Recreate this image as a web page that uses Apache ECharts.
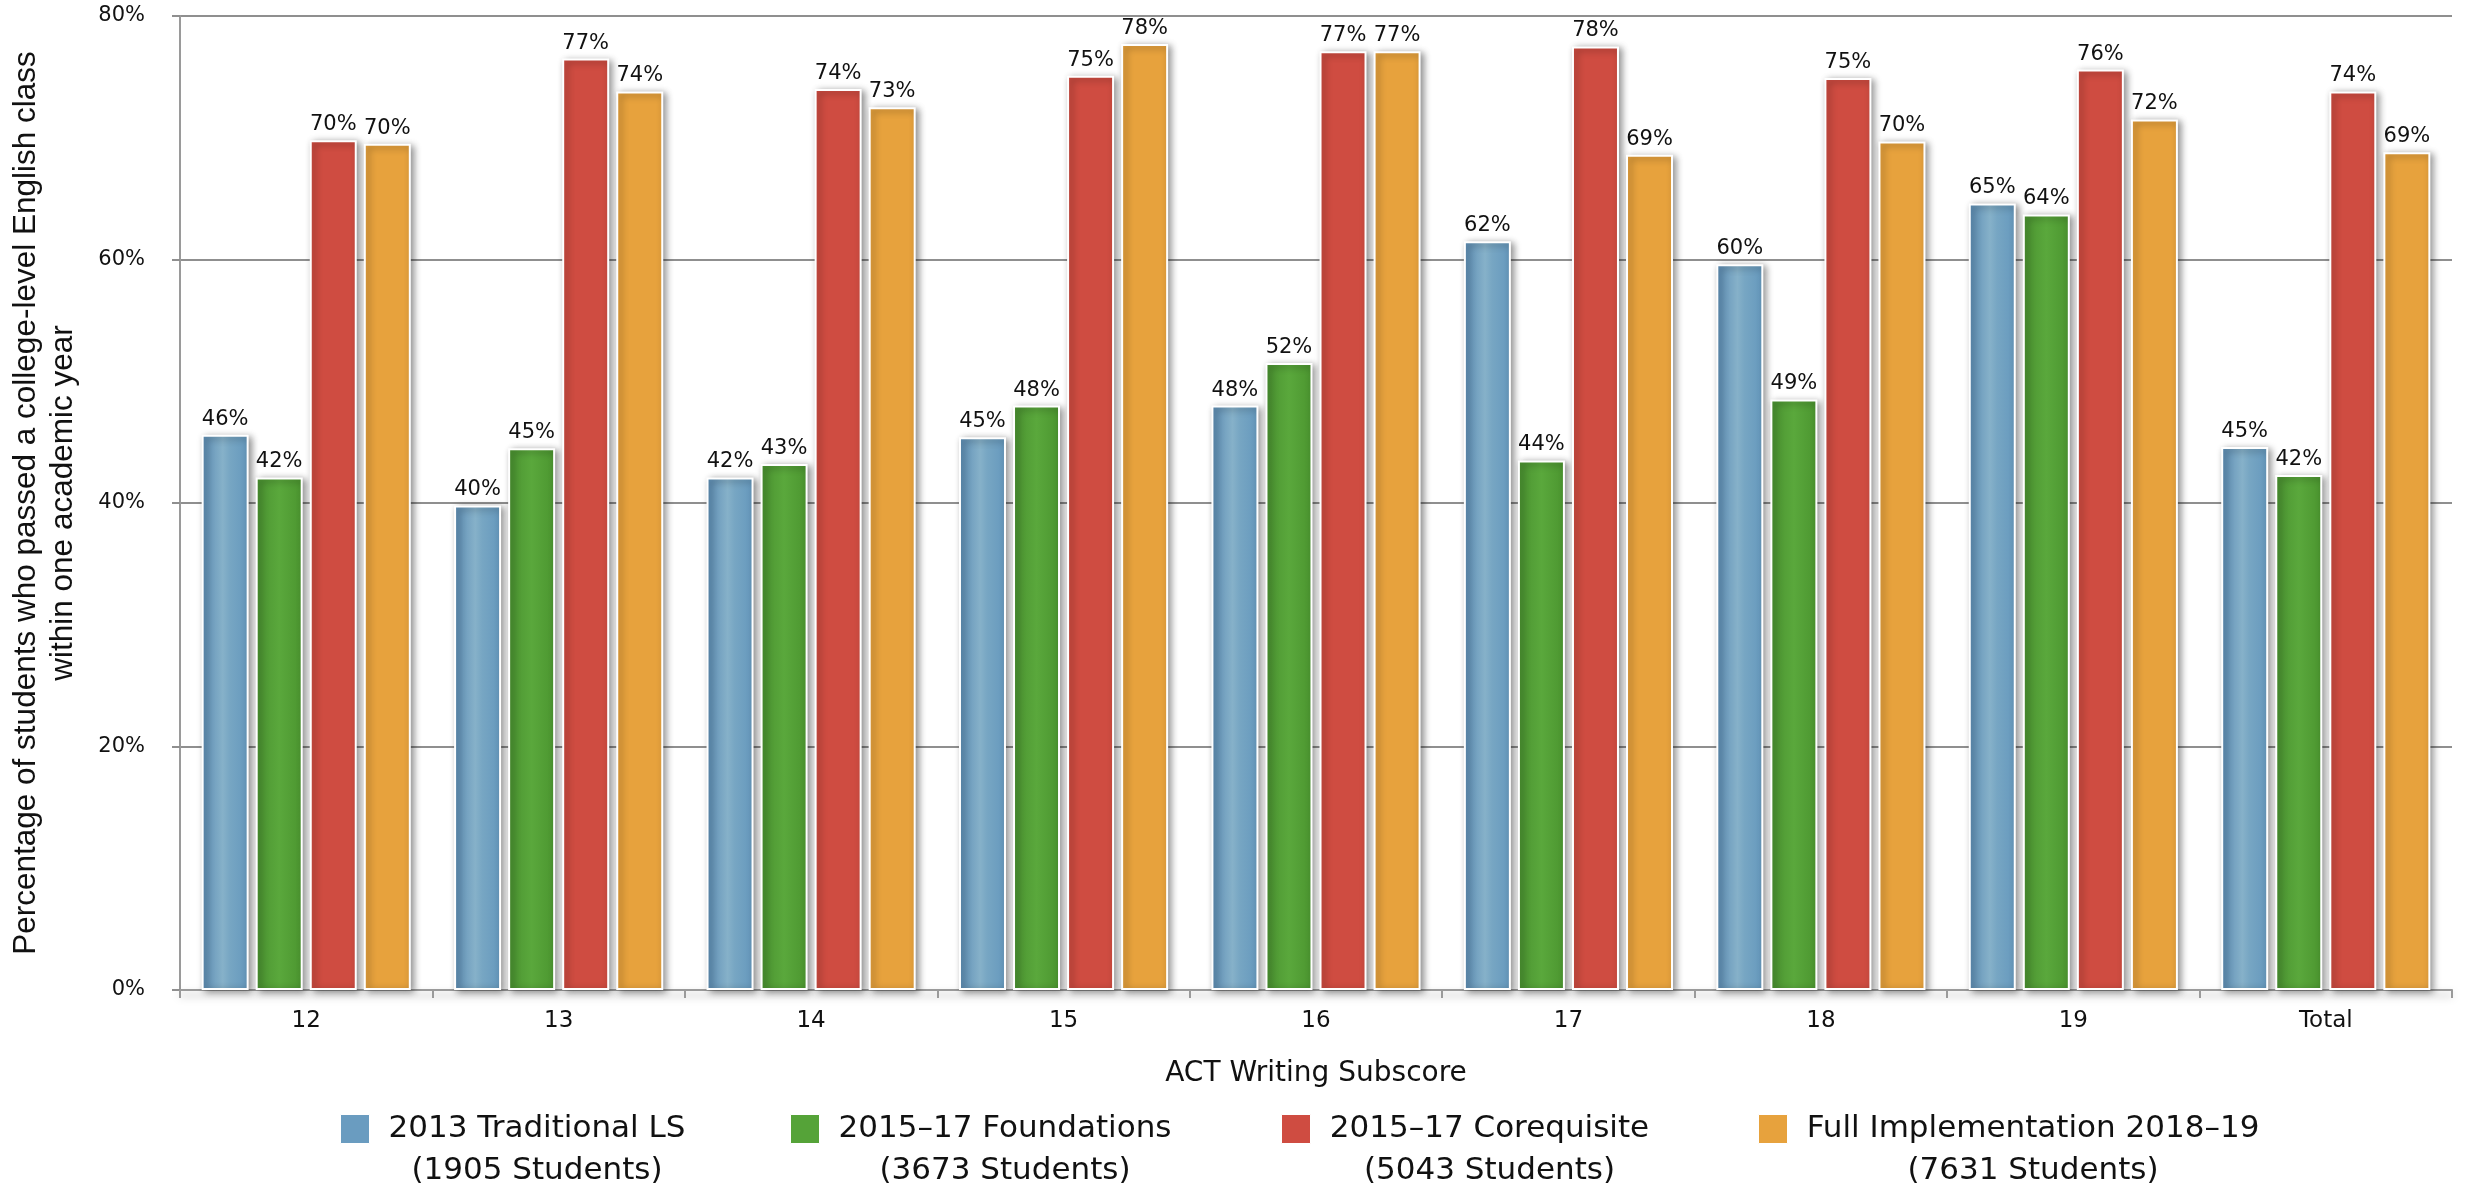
<!DOCTYPE html>
<html>
<head>
<meta charset="utf-8">
<script src="https://cdn.jsdelivr.net/npm/echarts@6/dist/echarts.min.js"></script>
<style>
html,body{margin:0;padding:0;background:#fff;}
#chart{width:2465px;height:1192px;}
</style>
</head>
<body>
<div id="chart"></div>
<script>
// ---- data ----
var categories = ['12', '13', '14', '15', '16', '17', '18', '19', 'Total'];
var seriesNames = ['2013 Traditional LS', '2015\u201317 Foundations', '2015\u201317 Corequisite', 'Full Implementation 2018\u201319'];
var studentCounts = [1905, 3673, 5043, 7631];
var traditional = [45.6, 39.8, 42.1, 45.4, 48.0, 61.5, 59.6, 64.6, 44.6];
var foundations = [42.1, 44.5, 43.2, 48.0, 51.5, 43.5, 48.5, 63.7, 42.3];
var corequisite = [69.8, 76.5, 74.0, 75.1, 77.1, 77.5, 74.9, 75.6, 73.8];
var fullImpl = [69.5, 73.8, 72.5, 77.7, 77.1, 68.6, 69.7, 71.5, 68.8];
var yTicks = [0, 20, 40, 60, 80];
var xAxisTitle = 'ACT Writing Subscore';
var yAxisTitle = 'Percentage of students who passed a college-level English class\nwithin one academic year';

// ---- styles ----
var seriesValues = [traditional, foundations, corequisite, fullImpl];
var colors = [
  new echarts.graphic.LinearGradient(0, 0, 1, 0, [
    {offset: 0, color: '#5b8cb4'}, {offset: 0.45, color: '#86b1c9'}, {offset: 0.6, color: '#77a6c3'}, {offset: 1, color: '#6598bd'}]),
  new echarts.graphic.LinearGradient(0, 0, 1, 0, [
    {offset: 0, color: '#4a9230'}, {offset: 0.5, color: '#5aa83c'}, {offset: 1, color: '#4b952f'}]),
  '#cf4c41',
  '#e7a23d'
];
var legendColors = ['#6a9cc0', '#55a338', '#cf4c41', '#e7a23d'];
var legendLeft = [340, 790, 1281, 1758];
var FONT = 'DejaVu Sans';
var LEGEND_FS = 31;

var measureCtx = document.createElement('canvas').getContext('2d');
measureCtx.font = LEGEND_FS + 'px "' + FONT + '"';
function textW(s) { return Math.ceil(measureCtx.measureText(s).width); }

var series = seriesNames.map(function (n, i) {
  return {
    name: n,
    type: 'bar',
    data: seriesValues[i],
    barWidth: 47,
    barGap: '15%',
    barCategoryGap: '17%',
    itemStyle: {
      color: colors[i],
      borderColor: '#ffffff',
      borderWidth: 2,
      shadowColor: 'rgba(0,0,0,0.45)',
      shadowBlur: 7,
      shadowOffsetX: 3,
      shadowOffsetY: 2
    },
    label: {
      show: true,
      position: 'top',
      distance: 5,
      fontFamily: FONT,
      fontSize: 21,
      color: '#111',
      formatter: function (p) { return Math.round(p.value) + '%'; }
    },
    emphasis: {disabled: true}
  };
});

var legends = seriesNames.map(function (n, i) {
  var line2 = '(' + studentCounts[i] + ' Students)';
  var W = Math.max(textW(n), textW(line2));
  return {
    data: [{name: n, itemStyle: {color: legendColors[i], borderColor: '#fff', borderWidth: 1}}],
    left: legendLeft[i],
    top: 1082,
    padding: 0,
    icon: 'rect',
    itemWidth: 29,
    itemHeight: 29,
    selectedMode: false,
    formatter: function (name) {
      return '{e| }\n{a|' + name + '}\n{b|' + line2 + '}';
    },
    textStyle: {
      fontFamily: FONT,
      fontSize: LEGEND_FS,
      color: '#111',
      rich: {
        e: {fontSize: 10, lineHeight: 42, width: W, padding: [0, 0, 0, 14]},
        a: {fontFamily: FONT, fontSize: LEGEND_FS, lineHeight: 42, width: W, align: 'center', padding: [0, 0, 0, 14], color: '#111'},
        b: {fontFamily: FONT, fontSize: LEGEND_FS, lineHeight: 42, width: W, align: 'center', padding: [0, 0, 0, 14], color: '#111'}
      }
    }
  };
});

var chart = echarts.init(document.getElementById('chart'), null, {renderer: 'canvas'});
chart.setOption({
  backgroundColor: '#ffffff',
  animation: false,
  color: legendColors,
  grid: {left: 180, right: 13, top: 16, bottom: 202, containLabel: false},
  legend: legends,
  xAxis: {
    type: 'category',
    data: categories,
    name: xAxisTitle,
    nameLocation: 'middle',
    nameGap: 70,
    nameTextStyle: {fontFamily: FONT, fontSize: 28, color: '#111'},
    axisLine: {lineStyle: {color: '#9a9a9a', width: 2, shadowColor: 'rgba(0,0,0,0.35)', shadowBlur: 8, shadowOffsetY: 5}},
    axisTick: {show: true, length: 8, lineStyle: {color: '#9a9a9a', width: 2}},
    axisLabel: {fontFamily: FONT, fontSize: 23, color: '#111', margin: 20},
    splitLine: {show: false}
  },
  yAxis: {
    type: 'value',
    min: yTicks[0],
    max: yTicks[yTicks.length - 1],
    interval: yTicks[1] - yTicks[0],
    name: yAxisTitle,
    nameLocation: 'middle',
    nameGap: 98,
    nameTextStyle: {fontFamily: 'Liberation Sans', fontSize: 31.5, color: '#111', lineHeight: 37, align: 'center'},
    axisLine: {show: true, lineStyle: {color: '#9a9a9a', width: 2}},
    axisTick: {show: true, length: 8, lineStyle: {color: '#8f8f8f', width: 2}},
    axisLabel: {fontFamily: FONT, fontSize: 21, color: '#111', margin: 35, formatter: '{value}%'},
    splitLine: {show: true, lineStyle: {color: '#8f8f8f', width: 2}}
  },
  series: series
});
</script>
</body>
</html>
